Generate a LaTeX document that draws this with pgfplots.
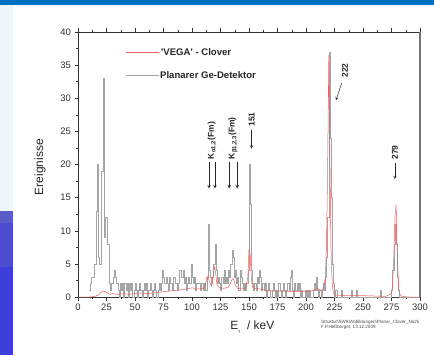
\documentclass[border=0pt]{standalone}
\usepackage{pgfplots}
\pgfplotsset{compat=1.18}
\usepackage{fontspec}
\setmainfont{Liberation Sans}
\definecolor{greyline}{RGB}{165,165,165}
\definecolor{vred}{RGB}{232,96,96}
\definecolor{topblue}{RGB}{0,112,192}
\definecolor{lightstrip}{RGB}{238,246,250}
\definecolor{blueA}{RGB}{92,92,200}
\definecolor{blueB}{RGB}{76,76,208}
\definecolor{blueC}{RGB}{62,62,220}
\begin{document}
\begin{tikzpicture}[x=1bp,y=1bp]
\path[use as bounding box,fill=white] (0,0) rectangle (434,355);
\fill[topblue] (0,350) rectangle (434,355);
\fill[lightstrip] (0,144) rectangle (13,350);
\fill[blueA] (0,132) rectangle (13,144);
\fill[blueB] (0,88) rectangle (13,132);
\fill[blueC] (0,0) rectangle (13,88);
\begin{axis}[
  name=ax,
  at={(78bp,58bp)}, anchor=south west,
  scale only axis, width=342bp, height=265bp,
  xmin=0, xmax=300, ymin=0, ymax=40,
  xtick={0,25,...,300}, ytick={0,5,...,40},
  minor x tick num=1, minor y tick num=1,
  tick align=outside, xtick pos=both, xticklabel pos=lower, ytick pos=left,
  major tick length=3.5bp, minor tick length=2bp,
  every tick/.style={black!80, line width=0.5pt},
  axis line style={black!80, line width=0.6pt},
  tick label style={font=\fontsize{9.5}{10}\selectfont, text=black!80},
  /pgf/number format/assume math mode=true,
  xlabel={E\raisebox{-3.5bp}{\fontsize{4}{4}\selectfont γ}\ \ / keV},
  xlabel style={font=\fontsize{12}{13}\selectfont, text=black!85, at={(axis description cs:0.51,-0.075)}, anchor=north},
  ylabel={Ereignisse},
  ylabel style={font=\fontsize{12}{13}\selectfont, text=black!85, at={(axis description cs:-0.111,0.49)}, anchor=center, rotate=0},
  clip=true,
]
% Planarer Ge-Detektor (1 keV bins, left edges)
\addplot[const plot mark left, color=greyline, line width=0.55pt] table {
x y
10 1
11 2
12 3
13 3
14 5
15 5
16 13
17 20
18 6
19 5
20 19
21 19
22 33
23 9
24 12
25 12
26 8
27 2
28 1
29 2
30 2
31 3
32 4
33 3
34 2
35 1
36 0
37 2
38 1
39 2
40 0
41 2
42 1
43 2
44 0
45 2
46 1
47 2
48 0
49 1
50 2
51 1
52 0
53 1
54 2
55 1
56 0
57 1
58 2
59 1
60 2
61 0
62 1
63 2
64 1
65 0
66 1
67 2
68 1
69 0
70 1
71 2
72 1
73 2
74 4
75 3
76 2
77 3
78 2
79 1
80 3
81 2
82 2
83 1
84 3
85 2
86 2
87 1
88 2
89 4
90 4
91 3
92 4
93 2
94 3
95 1
96 2
97 3
98 2
99 5
100 3
101 2
102 3
103 1
104 2
105 2
106 2
107 1
108 2
109 2
110 1
111 2
112 1
113 3
114 11
115 4
116 3
117 2
118 3
119 5
120 8
121 4
122 2
123 3
124 2
125 1
126 3
127 2
128 4
129 2
130 3
131 2
132 4
133 3
134 5
135 7
136 6
137 3
138 4
139 2
140 3
141 1
142 4
143 3
144 2
145 1
146 2
147 1
148 2
149 4
150 20
151 14
152 4
153 2
154 1
155 2
156 1
157 3
158 2
159 4
160 3
161 1
162 2
163 1
164 2
165 0
166 1
167 2
168 1
169 0
170 1
171 2
172 1
173 0
174 1
175 0
176 2
177 1
178 0
179 1
180 2
181 1
182 0
183 1
184 2
185 1
186 3
187 4
188 1
189 0
190 2
191 1
192 2
193 1
194 2
195 0
196 1
197 0
199 1
200 0
201 1
202 0
203 1
204 0
206 1
207 2
208 1
209 3
210 1
211 0
212 1
213 0
214 1
215 2
216 1
217 3
218 6
219 12
220 37
221 24
222 15
223 5
224 2
225 0
226 1
227 0
231 1
232 0
240 1
241 0
244 1
245 0
265 1
266 0
275 1
276 4
277 8
278 11
279 8
280 3
281 1
282 0
300 0
};
% 'VEGA' - Clover
\addplot[color=vred, line width=0.5pt] table {
x y
0 0
10 0
15 0.1
18 0.3
20 0.7
22 0.9
24 0.8
26 0.6
28 0.4
30 0.5
35 0.4
40 0.5
45 0.4
50 0.5
55 0.6
60 0.5
65 0.6
70 0.7
75 0.8
80 0.9
85 1.0
90 1.1
95 1.2
100 1.4
105 1.2
110 1.3
112 2.0
113 3.0
114 3.1
115 2.5
116 2.0
117 1.6
118 2.5
119 4.0
120 4.6
121 3.2
122 1.8
124 1.4
128 1.3
132 1.5
134 2.2
135 2.6
136 2.8
137 2.4
138 1.8
140 1.3
144 1.2
147 1.3
149 3.0
150 7.2
151 6.5
152 3.0
153 1.5
155 1.3
160 1.2
165 1.0
170 0.9
180 0.9
190 0.8
200 0.8
205 0.9
210 1.3
213 1.0
215 1.2
217 3
218 8
219 20
220 36.5
221 20
222 6
223 2
224 0.6
226 0.3
235 0.2
250 0.2
270 0.1
275 0.5
276 2
277 6
278 12
279 14
280 7
281 2
282 0.5
284 0.1
290 0
300 0
};
% annotations
\begin{scope}[font=\bfseries\fontsize{8.5}{9}\selectfont, text=black!85]
\node[rotate=90, anchor=west, inner sep=0pt] at (axis cs:117.5,20.8) {K\textsubscript{α1,2}(Fm)};
\node[rotate=90, anchor=west, inner sep=0pt] at (axis cs:136,20.8) {K\textsubscript{β1,2,3}(Fm)};
\node[rotate=90, anchor=west, inner sep=0pt] at (axis cs:152.4,25.7) {151};
\node[rotate=90, anchor=west, inner sep=0pt] at (axis cs:234.2,33.1) {222};
\node[rotate=90, anchor=west, inner sep=0pt] at (axis cs:278,20.7) {279};
\end{scope}
\begin{scope}[black!85, line width=0.5pt, -stealth]
\draw (axis cs:114.9,20.4) -- (axis cs:114.9,16.4);
\draw (axis cs:120.2,20.4) -- (axis cs:120.2,16.4);
\draw (axis cs:132.7,20.4) -- (axis cs:132.7,16.4);
\draw (axis cs:139.7,20.4) -- (axis cs:139.7,16.4);
\draw (axis cs:152.2,25.2) -- (axis cs:152.2,22.4);
\draw (axis cs:231.3,32.3) -- (axis cs:226.3,29.7);
\draw (axis cs:278,20.2) -- (axis cs:278,17.8);
\end{scope}
\end{axis}
\draw[black!55, line width=1.1pt] (ax.south east) -- (ax.north east);
% legend
\draw[color=vred, line width=0.8pt] (126,303) -- (159,303);
\node[anchor=west, inner sep=0pt, font=\bfseries\fontsize{9.6}{10}\selectfont, text=black!85] at (161,303) {\textquotesingle VEGA\textquotesingle\ - Clover};
\draw[color=greyline, line width=1pt] (126,280) -- (159,280);
\node[anchor=west, inner sep=0pt, font=\bfseries\fontsize{9.6}{10}\selectfont, text=black!85] at (160,280) {Planarer Ge-Detektor};
\node[anchor=west, inner sep=0pt, font=\fontsize{4.6}{5.5}\selectfont, text=black!70, align=left] at (321,30)
 {Struktur\textbackslash SWK\textbackslash Abbildungen\textbackslash Planar\_Clover\_No25\\F.P.Heßberger, 13.12.2009};
\end{tikzpicture}
\end{document}
